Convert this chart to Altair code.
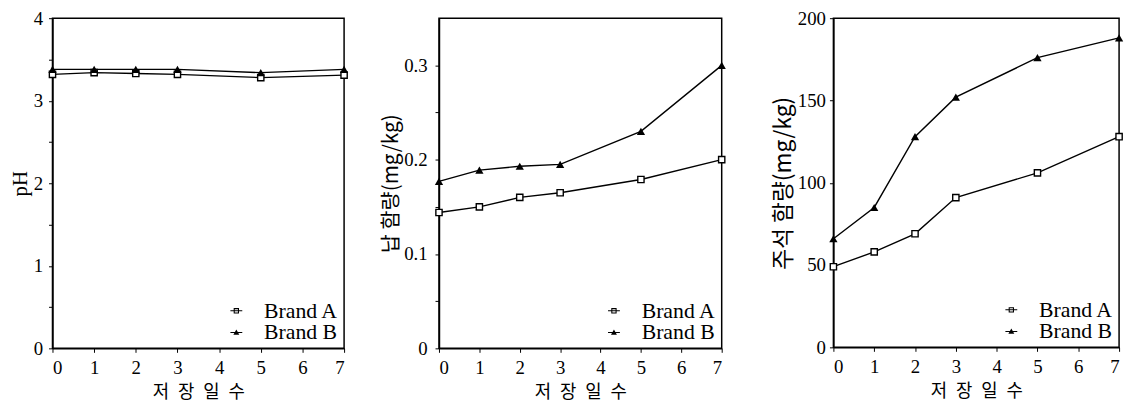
import altair as alt
import pandas as pd

# ---- data ----
days = [0, 1, 2, 3, 5, 7]
brands = ["Brand A", "Brand B"]
x_ticks = [0, 1, 2, 3, 4, 5, 6, 7]

ph_a = [3.32, 3.34, 3.33, 3.32, 3.28, 3.31]
ph_b = [3.38, 3.38, 3.38, 3.38, 3.34, 3.38]

pb_a = [0.144, 0.150, 0.160, 0.165, 0.179, 0.200]
pb_b = [0.177, 0.189, 0.193, 0.195, 0.230, 0.300]

sn_a = [49, 58, 69, 91, 106, 128]
sn_b = [66, 85, 128, 152, 176, 188]

ph_ticks = [0, 0.5, 1, 1.5, 2, 2.5, 3, 3.5, 4]
pb_ticks = [0, 0.05, 0.1, 0.15, 0.2, 0.25, 0.3]
sn_ticks = [0, 50, 100, 150, 200]

x_title = "저\u2002장\u2002일\u2002수"

SERIF = "Liberation Serif"
KR = "Noto Sans CJK KR"

# legend glyphs: line with open square / line with filled triangle
path_a = "M-1,-0.09H1V0.09H-1Z M-0.45,-0.45H0.45V0.45H-0.45Z M-0.27,-0.27V0.27H0.27V-0.27Z"
path_b = "M-1,-0.09H1V0.09H-1Z M0,-0.5L0.5,0.38H-0.5Z"


def panel(a, b, ytitle, ytitle_font, ytitle_size, ydomain, yticks, label_expr,
          width, height, label_pad, title_pad):
    df = pd.DataFrame({
        "day": days + days,
        "value": a + b,
        "brand": [brands[0]] * len(days) + [brands[1]] * len(days),
    })
    base = alt.Chart(df)
    x = alt.X("day:Q", scale=alt.Scale(domain=[0, 7], nice=False, zero=False),
              axis=alt.Axis(values=x_ticks, title=x_title, format="d",
                            titleFont=KR, titleFontSize=18, titleFontWeight="normal",
                            titlePadding=7, labelPadding=6))
    y = alt.Y("value:Q", scale=alt.Scale(domain=ydomain, nice=False, zero=True),
              axis=alt.Axis(values=yticks, title=ytitle, labelExpr=label_expr,
                            titleFont=ytitle_font, titleFontSize=ytitle_size,
                            titleFontWeight="normal", titlePadding=title_pad,
                            labelPadding=label_pad))
    line = base.mark_line(color="black", strokeWidth=1.4).encode(
        x=x, y=y, detail="brand:N")
    sq = base.transform_filter(alt.datum.brand == brands[0]).mark_point(
        shape="square", filled=True, fill="white", stroke="black",
        strokeWidth=1.4, size=40, opacity=1).encode(x=x, y=y)
    tri = base.transform_filter(alt.datum.brand == brands[1]).mark_point(
        shape="triangle-up", filled=True, color="black", size=70,
        opacity=1).encode(x=x, y=y)
    leg = base.transform_filter("false").mark_point(
        filled=True, color="black", opacity=1, strokeWidth=0).encode(
        x=x, y=y,
        shape=alt.Shape("brand:N",
                        scale=alt.Scale(domain=brands, range=[path_a, path_b]),
                        legend=alt.Legend(title=None, orient="bottom-right",
                                          offset=5, padding=0, rowPadding=0,
                                          symbolSize=144, labelOffset=17,
                                          labelFont=SERIF, labelFontSize=22,
                                          labelColor="black",
                                          symbolFillColor="black",
                                          symbolStrokeWidth=0)))
    return alt.layer(line, sq, tri, leg).properties(width=width, height=height)


p1 = panel(ph_a, ph_b, "pH", SERIF, 21, [0, 4], ph_ticks,
           "datum.value % 1 == 0 ? format(datum.value, 'd') : ''",
           295, 334, 6, 3)
p2 = panel(pb_a, pb_b, "납 함량(mg/kg)", KR, 21, [0, 0.35], pb_ticks,
           "abs(datum.value * 10 - round(datum.value * 10)) < 0.000001 ? format(datum.value, '.1~f') : ''",
           286, 334, 8, 2)
p3 = panel(sn_a, sn_b, "주석 함량(mg/kg)", KR, 23, [0, 200], sn_ticks,
           "format(datum.value, 'd')",
           289, 333, 4, 2)

inner = alt.hconcat(p1, p2, spacing=29).resolve_scale(
    x="independent", y="independent", shape="independent"
).resolve_legend(shape="independent")

chart = alt.hconcat(inner, p3, spacing=43).resolve_scale(
    x="independent", y="independent", shape="independent"
).resolve_legend(shape="independent").properties(
    padding={"left": 0, "top": -2, "right": 0, "bottom": 0}
).configure_view(
    stroke="black", strokeWidth=1.5
).configure_axis(
    domainColor="black", domainWidth=1.5, tickColor="black", tickSize=4,
    tickWidth=1, labelColor="black", titleColor="black", grid=False,
    labelFont=SERIF, labelFontSize=19
)

chart.save("out.html", embed_options={"renderer": "svg", "actions": False})
